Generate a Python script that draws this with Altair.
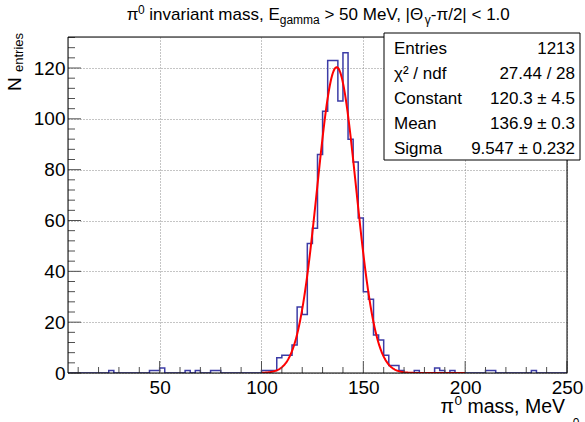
import altair as alt
import pandas as pd

# ---------------- data ----------------
x_min, x_max, bin_w = 5.0, 250.0, 2.5
# non-empty bins (left edge, MeV) and their contents
filled_left = [25, 45, 47.5, 50, 62.5, 67.5, 75, 77.5, 100, 102.5, 105,
               107.5, 110, 112.5, 115, 117.5, 120, 122.5, 125, 127.5, 130,
               132.5, 135, 137.5, 140, 142.5, 145, 147.5, 150, 152.5, 155,
               157.5, 160, 162.5, 165, 167.5, 175, 185, 187.5, 192.5, 210,
               212.5, 232.5]
filled_counts = [1, 1, 1, 2, 1, 1, 1, 1, 1, 1, 1,
                 6, 7, 7, 11, 26, 23, 51, 57, 86, 103,
                 123, 123, 107, 126, 92, 83, 61, 32, 29, 15,
                 13, 7, 3, 3, 1, 1, 2, 1, 1, 1,
                 1, 1]

# Gaussian fit parameters (from the stats box)
fit_constant, fit_mean, fit_sigma = 120.3, 136.9, 9.547
fit_lo, fit_hi = 100.0, 200.0

x_major = [50, 100, 150, 200, 250]
x_minor = [v for v in range(10, 251, 10) if v % 50 != 0]
y_major = [0, 20, 40, 60, 80, 100, 120]
y_minor = [v for v in range(4, 133, 4) if v % 20 != 0]

stat_labels = ["Entries", "χ² / ndf", "Constant", "Mean", "Sigma"]
stat_values = ["1213", "27.44 / 28", "120.3 ± 4.5", "136.9 ± 0.3", "9.547 ± 0.232"]

# ---------------- build tables ----------------
n_bins = int(round((x_max - x_min) / bin_w))
counts = [0] * n_bins
for left, c in zip(filled_left, filled_counts):
    counts[int(round((left - x_min) / bin_w))] = c
edges = [x_min + i * bin_w for i in range(n_bins)] + [x_max]
hist_df = pd.DataFrame({"m": edges, "n": counts + [counts[-1]]})

W, H = 499, 336
FONT = "Liberation Sans"
BLUE = "#3c3ca6"

xs = alt.Scale(domain=[x_min, x_max], nice=False, zero=False)
ys = alt.Scale(domain=[0, 132.2], nice=False, zero=True)

xaxis = alt.Axis(values=x_major, title=None, ticks=False, tickSize=0, domain=False,
                 grid=True, gridDash=[1, 2], gridColor="#8a8a8a", gridWidth=1,
                 labelFontSize=19, labelFont=FONT, labelColor="black",
                 labelPadding=5, labelFlush=False, labelOverlap=False, format="d")
yaxis = alt.Axis(values=y_major, title=None, ticks=False, tickSize=0, domain=False,
                 grid=True, gridDash=[1, 2], gridColor="#8a8a8a", gridWidth=1,
                 labelFontSize=19, labelFont=FONT, labelColor="black",
                 labelPadding=3, labelFlush=False, labelOverlap=False, format="d")

hist = alt.Chart(hist_df).mark_line(interpolate="step-after", color=BLUE,
                                     strokeWidth=1.5, clip=True).encode(
    x=alt.X("m:Q", scale=xs, axis=xaxis),
    y=alt.Y("n:Q", scale=ys, axis=yaxis),
)

fit = alt.Chart(alt.sequence(fit_lo, fit_hi + 0.001, 0.25, as_="m")).transform_calculate(
    n=f"{fit_constant}*exp(-0.5*pow((datum.m-{fit_mean})/{fit_sigma},2))"
).mark_line(color="#ff0000", strokeWidth=2, clip=True).encode(
    x=alt.X("m:Q", scale=xs, axis=xaxis),
    y=alt.Y("n:Q", scale=ys, axis=yaxis),
)

TICK = "#505050"
def xticks(vals, length):
    return alt.Chart(pd.DataFrame({"m": vals})).mark_rule(color=TICK, strokeWidth=1).encode(
        x=alt.X("m:Q", scale=xs, axis=xaxis), y=alt.value(H), y2=alt.value(H - length))

def yticks(vals, length):
    return alt.Chart(pd.DataFrame({"n": vals})).mark_rule(color=TICK, strokeWidth=1).encode(
        y=alt.Y("n:Q", scale=ys, axis=yaxis), x=alt.value(0), x2=alt.value(length))

one = pd.DataFrame({"a": [0]})
frame = alt.Chart(one).mark_rect(fill=None, stroke="black", strokeWidth=1).encode(
    x=alt.value(0), x2=alt.value(W), y=alt.value(0), y2=alt.value(H))

def txt(s, x, y, size, align="left", baseline="alphabetic", angle=0, color="black"):
    kw = dict(align=align, baseline=baseline, fontSize=size, font=FONT, color=color)
    if angle:
        kw["angle"] = angle
    return alt.Chart(pd.DataFrame({"t": [s]})).mark_text(**kw).encode(
        text="t:N", x=alt.value(x), y=alt.value(y))

# --- text width estimate (Arial/Liberation Sans metrics) for composing sub/superscripts ---
AW = {' ': 278, 'i': 222, 'n': 556, 'v': 500, 'a': 556, 'r': 333, 't': 278, 'm': 833,
      's': 500, ',': 278, 'E': 667, 'g': 556, '>': 584, '5': 556, '0': 556, 'M': 833,
      'e': 556, 'V': 667, '|': 260, 'Θ': 778, 'γ': 500, '-': 333, 'π': 660, '/': 278,
      '2': 556, '<': 584, '1': 556, '.': 278}
def tw(s, size):
    return sum(AW.get(ch, 556) for ch in s) / 1000.0 * size

title_pieces = [("π", 17, 0), ("0", 12, -6), (" invariant mass, E", 17, 0),
                ("gamma", 12, 4), (" > 50 MeV, |Θ", 17, 0), ("γ", 12, 4),
                ("-π/2| < 1.0", 17, 0)]
total = sum(tw(s, sz) for s, sz, _ in title_pieces)
cx = 318 - 68 - total / 2
base_y = 20 - 37
layers_title = []
for s, sz, dy in title_pieces:
    lead = len(s) - len(s.lstrip(" "))
    core = s.lstrip(" ")
    layers_title.append(txt(core, cx + tw(" " * lead, sz), base_y + dy, sz))
    cx += tw(s, sz)

# --- axis titles ---
xt_end = W - 2
xt_base = 376
part = "mass, MeV"
xtitle = [txt(part, xt_end, xt_base, 19.5, align="right")]
x0 = xt_end - tw(" " + part, 19.5)
xtitle.append(txt("0", x0, xt_base - 8, 13.5, align="right"))
x0 -= tw("0", 13.5) + 0.5
xtitle.append(txt("π", x0, xt_base, 19.5, align="right"))

ytitle = [txt("N", -47, 54, 19, angle=270),
          txt("entries", -45, 35, 13, angle=270)]

# --- stats box ---
box = alt.Chart(one).mark_rect(fill="white", stroke="black", strokeWidth=1).encode(
    x=alt.value(316), x2=alt.value(512), y=alt.value(-4), y2=alt.value(123))
stats = []
for i, (lab, val) in enumerate(zip(stat_labels, stat_values)):
    yy = 11.5 + 25 * i
    stats.append(txt(lab, 326, yy, 17, baseline="middle"))
    stats.append(txt(val, 507, yy, 17, align="right", baseline="middle"))

corner = txt("0", 508, 390, 12, align="center")

chart = alt.layer(
    hist, fit,
    xticks(x_minor, 6), xticks(x_major, 12),
    yticks(y_minor, 7), yticks(y_major, 13),
    frame, box, *stats, *layers_title, *xtitle, *ytitle, corner,
).properties(
    width=W, height=H,
    padding={"left": 68, "top": 37, "right": 18, "bottom": 49},
    autosize=alt.AutoSizeParams(type="none"),
    background="white",
).configure_view(stroke=None).configure(font=FONT)

chart.save("out.html", embed_options={"renderer": "svg", "actions": False})
